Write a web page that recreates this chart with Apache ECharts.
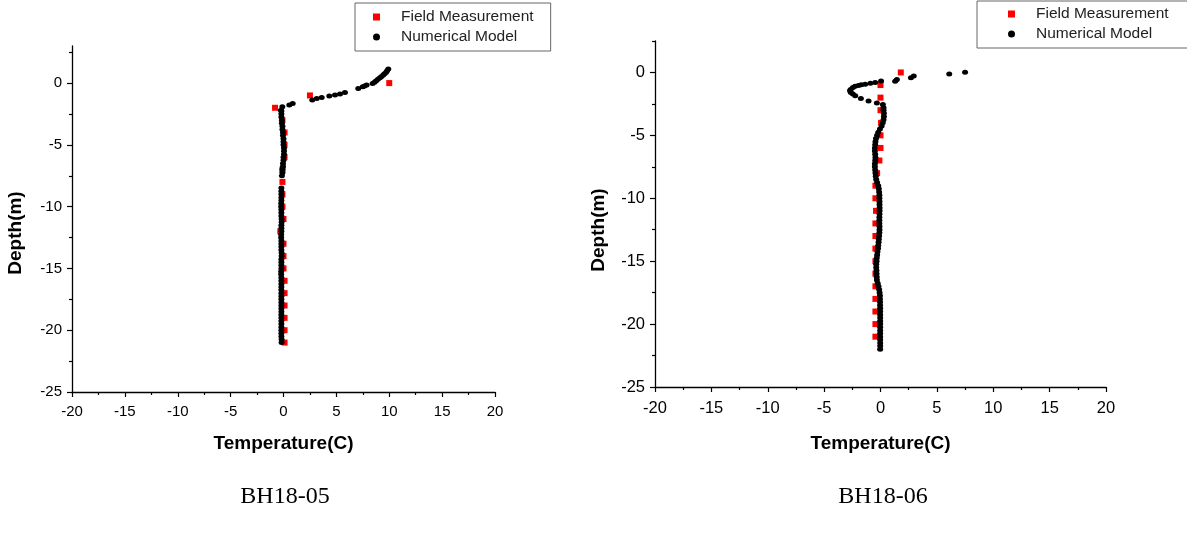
<!DOCTYPE html>
<html>
<head>
<meta charset="utf-8">
<script src="https://cdn.jsdelivr.net/npm/echarts@6.0.0/dist/echarts.min.js"></script>
<style>
  html, body { margin: 0; padding: 0; background: #fff; }
  #chart { width: 1187px; height: 534px; }
</style>
</head>
<body>
<div id="chart"></div>
<script>
// [temperature (C), depth (m)]
const fieldBH05 = [
  [10, 0], [2.5, -1], [-0.8, -2], [-0.1, -3], [0.1, -4], [0.1, -5], [0.1, -6], [-0.1, -7],
  [-0.1, -8], [-0.1, -9], [-0.1, -10], [0, -11], [-0.3, -12], [0, -13], [0, -14], [0, -15],
  [0.1, -16], [0.1, -17], [0.1, -18], [0.1, -19], [0.1, -20], [0.1, -21]
]
const modelBH05 = [
  [9.91, 1.13], [9.8, 1.0], [9.69, 0.86], [9.55, 0.75], [9.43, 0.65], [9.27, 0.54], [9.12, 0.43],
  [8.93, 0.3], [8.74, 0.16], [8.6, 0.06], [8.43, -0.03], [7.86, -0.16], [7.67, -0.23], [7.49, -0.3],
  [7.07, -0.43], [5.81, -0.76], [5.34, -0.89], [4.87, -0.97], [4.33, -1.05], [3.61, -1.17],
  [3.14, -1.25], [2.72, -1.38], [0.87, -1.65], [0.55, -1.78], [-0.11, -1.92], [-0.24, -2.19],
  [-0.2, -2.25], [-0.2, -2.5], [-0.2, -2.75], [-0.15, -3], [-0.15, -3.25], [-0.1, -3.5], [-0.1, -3.75],
  [-0.05, -4], [-0.05, -4.25], [0, -4.5], [0, -4.75], [0, -5], [0.05, -5.25], [0.05, -5.5], [0.05, -5.75],
  [0, -6], [0, -6.25], [-0.05, -6.5], [-0.05, -6.75], [-0.1, -7], [-0.1, -7.25], [-0.15, -7.5],
  [-0.2, -8.5], [-0.2, -8.75], [-0.2, -9], [-0.2, -9.25], [-0.2, -9.5], [-0.22, -9.75], [-0.22, -10],
  [-0.2, -10.25], [-0.2, -10.5], [-0.2, -10.75], [-0.18, -11], [-0.18, -11.25], [-0.2, -11.5],
  [-0.2, -11.75], [-0.2, -12], [-0.22, -12.25], [-0.22, -12.5], [-0.2, -12.75], [-0.2, -13],
  [-0.2, -13.25], [-0.2, -13.5], [-0.18, -13.75], [-0.18, -14], [-0.2, -14.25], [-0.2, -14.5],
  [-0.2, -14.75], [-0.2, -15], [-0.22, -15.25], [-0.22, -15.5], [-0.2, -15.75], [-0.2, -16],
  [-0.2, -16.25], [-0.2, -16.5], [-0.2, -16.75], [-0.2, -17], [-0.2, -17.25], [-0.2, -17.5],
  [-0.2, -17.75], [-0.2, -18], [-0.2, -18.25], [-0.2, -18.5], [-0.2, -18.75], [-0.2, -19],
  [-0.2, -19.25], [-0.2, -19.5], [-0.2, -19.75], [-0.2, -20], [-0.2, -20.25], [-0.2, -20.5],
  [-0.18, -20.75], [-0.18, -21]
]

const fieldBH06 = [
  [1.8, 0], [0, -1], [0, -2], [0, -3], [0.05, -4], [0, -5], [0, -6], [-0.1, -7], [-0.3, -8],
  [-0.45, -9], [-0.45, -10], [-0.4, -11], [-0.45, -12], [-0.45, -13], [-0.45, -14], [-0.45, -15],
  [-0.45, -16], [-0.45, -17], [-0.45, -18], [-0.45, -19], [-0.45, -20], [-0.45, -21]
]
const modelBH06 = [
  [7.5, 0.02], [6.1, -0.13], [2.95, -0.29], [2.7, -0.43], [1.45, -0.56], [1.3, -0.69], [0.05, -0.67],
  [-0.47, -0.8], [-0.9, -0.86], [-1.36, -0.93], [-1.7, -0.98], [-1.95, -1.03], [-2.25, -1.1],
  [-2.45, -1.19], [-2.65, -1.35], [-2.7, -1.46], [-2.63, -1.6], [-2.45, -1.72], [-2.24, -1.86],
  [-1.74, -2.07], [-1.06, -2.26], [-0.32, -2.42], [0.21, -2.55], [0.27, -2.8],
  [0.27, -3], [0.3, -3.25], [0.3, -3.5], [0.27, -3.75], [0.2, -4], [0.1, -4.25], [-0.05, -4.5],
  [-0.2, -4.75], [-0.3, -5], [-0.4, -5.25], [-0.45, -5.5], [-0.47, -5.75], [-0.5, -6], [-0.5, -6.25],
  [-0.47, -6.5], [-0.45, -6.75], [-0.47, -7], [-0.5, -7.25], [-0.5, -7.5], [-0.47, -7.75],
  [-0.45, -8], [-0.42, -8.25], [-0.38, -8.5], [-0.3, -8.75], [-0.2, -9], [-0.15, -9.25],
  [-0.12, -9.5], [-0.1, -9.75], [-0.1, -10], [-0.09, -10.25], [-0.09, -10.5], [-0.08, -10.75],
  [-0.08, -11], [-0.09, -11.25], [-0.1, -11.5], [-0.1, -11.75], [-0.1, -12], [-0.09, -12.25],
  [-0.09, -12.5], [-0.1, -12.75], [-0.12, -13], [-0.15, -13.25], [-0.17, -13.5], [-0.2, -13.75],
  [-0.22, -14], [-0.27, -14.25], [-0.3, -14.5], [-0.33, -14.75], [-0.35, -15], [-0.38, -15.25],
  [-0.38, -15.5], [-0.36, -15.75], [-0.35, -16], [-0.33, -16.25], [-0.32, -16.5], [-0.25, -16.75],
  [-0.18, -17], [-0.12, -17.25], [-0.08, -17.5], [-0.05, -17.75], [-0.05, -18], [-0.04, -18.25],
  [-0.04, -18.5], [-0.03, -18.75], [-0.03, -19], [-0.03, -19.25], [-0.03, -19.5], [-0.03, -19.75],
  [-0.03, -20], [-0.03, -20.25], [-0.03, -20.5], [-0.03, -20.75], [-0.03, -21], [-0.03, -21.25],
  [-0.03, -21.5], [-0.03, -21.75], [-0.03, -22]
]

const depthMajor = [-25, -20, -15, -10, -5, 0]
const depthMinor = [-22.5, -17.5, -12.5, -7.5, -2.5, 2.5]
const depthMax = [3, 2.5]
const captions = ['BH18-05', 'BH18-06']

const FONT = '"Liberation Sans", Arial, sans-serif'
const axisColor = '#000'

const grids = [
  { left: 72, top: 46, width: 423, height: 346 },
  { left: 655, top: 41, width: 451, height: 346 }
]

// same plot box, but cut at depth 0 so an interval axis gives ticks at -25..0 only
function majorGrid(g, max) {
  const px = g.height / (max + 25)
  return { left: g.left, width: g.width, top: g.top + max * px, height: 25 * px }
}

function tempAxis(gi, labelSize, margin, nameGap) {
  return {
    gridIndex: gi,
    type: 'value',
    min: -20,
    max: 20,
    interval: 5,
    splitLine: { show: false },
    axisLine: { show: true, onZero: false, lineStyle: { color: axisColor, width: 1.3 } },
    axisTick: { show: true, length: 5, lineStyle: { color: axisColor, width: 1.2 } },
    minorTick: { show: true, splitNumber: 2, length: 3, lineStyle: { color: axisColor, width: 1.2 } },
    axisLabel: { color: '#000', fontFamily: FONT, fontSize: labelSize, margin: margin },
    name: 'Temperature(C)',
    nameLocation: 'middle',
    nameGap: nameGap,
    nameTextStyle: { color: '#000', fontFamily: FONT, fontSize: 19, fontWeight: 'bold' }
  }
}

function depthAxis(gi, max, labelSize, shift) {
  return {
    gridIndex: gi,
    type: 'value',
    min: -25,
    max: max,
    splitLine: { show: false },
    axisLine: { show: true, onZero: false, lineStyle: { color: axisColor, width: 1.3 } },
    axisTick: { show: false },
    axisLabel: { show: true, customValues: depthMajor, color: '#000', fontFamily: FONT, fontSize: labelSize, margin: 10 },
    name: 'Depth(m)',
    nameLocation: 'middle',
    nameGap: 47,
    nameTextStyle: {
      color: '#000', fontFamily: FONT, fontSize: 19, fontWeight: 'bold',
      padding: [0, shift * 2, 0, 0]
    }
  }
}

function minorDepthAxis(gi, max) {
  return {
    gridIndex: gi,
    type: 'value',
    min: -25,
    max: max,
    splitLine: { show: false },
    axisLine: { show: false, onZero: false },
    axisLabel: { show: false },
    axisTick: { show: true, customValues: depthMinor, length: 3, lineStyle: { color: axisColor, width: 1.2 } }
  }
}

function majorDepthAxis(gi) {
  return {
    gridIndex: gi,
    type: 'value',
    min: -25,
    max: 0,
    interval: 5,
    splitLine: { show: false },
    axisLine: { show: false, onZero: false },
    axisLabel: { show: false },
    axisTick: { show: true, length: 5, lineStyle: { color: axisColor, width: 1.2 } }
  }
}

function hiddenX(gi) {
  return { gridIndex: gi, type: 'value', min: -20, max: 20, show: false }
}

function legendFor(left, top, padding) {
  return {
    orient: 'vertical',
    left: left,
    top: top,
    padding: padding,
    itemGap: 4,
    itemWidth: 7,
    itemHeight: 7,
    borderColor: '#666',
    borderWidth: 1,
    selectedMode: false,
    textStyle: { color: '#222', fontFamily: FONT, fontSize: 15.5, padding: [0, 0, 0, 16] },
    data: [
      { name: 'Field Measurement', icon: 'rect' },
      { name: 'Numerical Model', icon: 'circle' }
    ]
  }
}

function fieldSeries(ai, data) {
  return {
    name: 'Field Measurement',
    type: 'scatter',
    xAxisIndex: ai,
    yAxisIndex: ai,
    symbol: 'rect',
    symbolSize: 6,
    itemStyle: { color: '#ff0000', opacity: 1 },
    data: data
  }
}

function modelSeries(ai, data) {
  return {
    name: 'Numerical Model',
    type: 'scatter',
    xAxisIndex: ai,
    yAxisIndex: ai,
    symbol: 'circle',
    symbolSize: [6, 5],
    itemStyle: { color: '#000', opacity: 1 },
    data: data
  }
}

const chart = echarts.init(document.getElementById('chart'), null, { renderer: 'canvas' })
chart.setOption({
  animation: false,
  backgroundColor: '#fff',
  grid: [
    grids[0], grids[1], grids[0], grids[1],
    majorGrid(grids[0], depthMax[0]), majorGrid(grids[1], depthMax[1])
  ],
  xAxis: [tempAxis(0, 15, 12, 42), tempAxis(1, 16.5, 13, 47), hiddenX(2), hiddenX(3), hiddenX(4), hiddenX(5)],
  yAxis: [
    depthAxis(0, depthMax[0], 15, 14), depthAxis(1, depthMax[1], 16.5, 16),
    minorDepthAxis(2, depthMax[0]), minorDepthAxis(3, depthMax[1]),
    majorDepthAxis(4), majorDepthAxis(5)
  ],
  legend: [
    legendFor(355, 3, [6, 17, 6, 18]),
    legendFor(977, 1, [5, 30, 6, 31])
  ],
  series: [
    fieldSeries(0, fieldBH05),
    modelSeries(0, modelBH05),
    fieldSeries(1, fieldBH06),
    modelSeries(1, modelBH06)
  ],
  graphic: [
    { type: 'text', x: 285, y: 497, style: { text: captions[0], font: '24px "Liberation Serif", "Times New Roman", serif', fill: '#000', align: 'center', verticalAlign: 'middle' } },
    { type: 'text', x: 883, y: 497, style: { text: captions[1], font: '24px "Liberation Serif", "Times New Roman", serif', fill: '#000', align: 'center', verticalAlign: 'middle' } }
  ]
})
</script>
</body>
</html>
